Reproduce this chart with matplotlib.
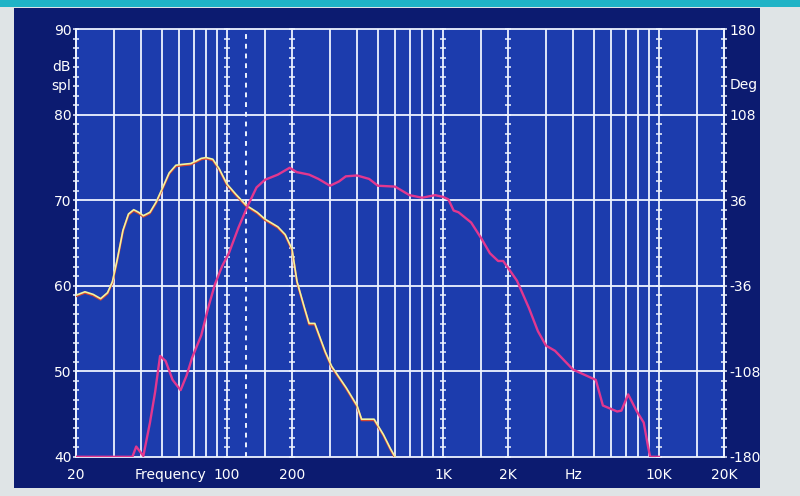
import numpy as np
import matplotlib
matplotlib.use('Agg')
import matplotlib.pyplot as plt
from matplotlib.patches import Rectangle
import matplotlib.transforms as mtransforms

# ---------------- data ----------------
yellow_freq = [20, 22, 24, 26, 28, 29.5, 31, 33, 35, 37, 39, 41, 44, 47, 50, 54, 58, 62,
               68, 72, 76, 80, 86, 92, 100, 110, 123, 138, 150, 172, 186, 200, 211, 228,
               240, 255, 262, 285, 305, 356, 400, 420, 480, 530, 570, 600]
yellow_db = [58.9, 59.3, 59.0, 58.5, 59.2, 60.5, 63.0, 66.5, 68.4, 68.9, 68.6, 68.2, 68.6,
             69.8, 71.3, 73.2, 74.1, 74.2, 74.3, 74.6, 74.9, 75.0, 74.8, 73.7, 71.9, 70.7,
             69.4, 68.6, 67.8, 66.9, 66.0, 64.3, 60.5, 57.5, 55.6, 55.6, 54.8, 52.3, 50.6,
             48.1, 46.0, 44.4, 44.4, 42.6, 41.0, 40.0]

magenta_freq = [20, 36.5, 38, 41, 44, 46.5, 49, 52, 56, 61, 65, 69, 76, 82, 88, 95, 102,
                113, 125, 137, 150, 172, 195, 210, 240, 265, 300, 330, 355, 400, 455, 500,
                600, 700, 800, 920, 1000, 1060, 1120, 1180, 1350, 1500, 1650, 1800, 1900,
                2000, 2200, 2500, 2750, 3000, 3300, 4000, 4700, 5100, 5500, 6400, 6700,
                7200, 7900, 8500, 8900, 9100, 10000]
magenta_db = [40.0, 40.0, 41.2, 40.1, 44.0, 47.6, 51.8, 51.2, 49.0, 47.8, 49.5, 51.6, 54.2,
              57.5, 60.2, 62.3, 63.8, 66.8, 69.4, 71.5, 72.4, 73.0, 73.8, 73.3, 73.0, 72.5,
              71.7, 72.2, 72.8, 72.9, 72.5, 71.7, 71.6, 70.6, 70.3, 70.6, 70.4, 70.1, 68.8,
              68.6, 67.4, 65.6, 63.8, 62.9, 62.9, 62.1, 60.6, 57.4, 54.7, 53.0, 52.4, 50.2,
              49.4, 49.0, 46.0, 45.3, 45.4, 47.3, 45.3, 44.0, 41.2, 40.0, 40.0]

x_tick_vals = [20, 55, 100, 200, 1000, 2000, 4000, 10000, 20000]
x_tick_labels = ['20', 'Frequency', '100', '200', '1K', '2K', 'Hz', '10K', '20K']
solid_grid_freqs = [30, 40, 50, 60, 70, 80, 90, 150, 300, 400, 500, 600, 700, 800, 900,
                    1500, 3000, 4000, 5000, 6000, 7000, 8000, 9000, 15000]
beaded_grid_freqs = [20, 100, 200, 1000, 2000, 10000, 20000]
marker_freq = 123
db_ticks = [40, 50, 60, 70, 80, 90]
db_grid = [50, 60, 70, 80]
deg_ticks = [-180, -108, -36, 36, 108, 180]

# ---------------- style ----------------
plt.rcParams['axes.unicode_minus'] = False
plt.rcParams['font.family'] = ['DejaVu Sans']
GC = '#eef3ff'
PANEL = '#0c1b70'
PLOT_BG = '#1c3cad'

fig = plt.figure(figsize=(8, 4.96), dpi=100, facecolor='#dfe4e6')
fig.patches.append(Rectangle((0.018, 0.016), 0.932, 0.968, transform=fig.transFigure,
                             facecolor=PANEL, edgecolor='none', zorder=-10))
fig.patches.append(Rectangle((0.0, 0.986), 1.0, 0.014, transform=fig.transFigure,
                             facecolor='#1fb3c6', edgecolor='none', zorder=-10))

ax = fig.add_axes([0.095, 0.079, 0.81, 0.862])
ax.set_facecolor(PLOT_BG)
ax.set_xscale('log')
ax.set_xlim(20, 20000)
ax.set_ylim(40, 90)

# grid
for f in solid_grid_freqs:
    ax.axvline(f, color=GC, lw=1.3, zorder=1)
for y in db_grid:
    ax.axhline(y, color=GC, lw=1.3, zorder=1)
bead_y = np.linspace(40, 90, 46)
for f in beaded_grid_freqs:
    ax.axvline(f, color=GC, lw=1.3, zorder=1, clip_on=False)
    ax.plot([f] * len(bead_y), bead_y, ls='none', marker='_', ms=4.5, mew=1.1,
            color=GC, zorder=1, clip_on=False)
ax.axvline(marker_freq, color=GC, lw=1.4, ls=(0, (2.5, 2.5)), zorder=1)

for s in ax.spines.values():
    s.set_color(GC)
    s.set_linewidth(1.3)

# curves
off = mtransforms.offset_copy(ax.transData, fig=fig, x=0, y=-1.0, units='dots')
ax.plot(yellow_freq, yellow_db, color='#d8452e', lw=1.5, zorder=3, transform=off)
ax.plot(yellow_freq, yellow_db, color='#f2f4a0', lw=1.2, zorder=4)
ax.plot(magenta_freq, magenta_db, color='#e2378f', lw=1.7, zorder=5)

# ticks
ax.set_xticks(x_tick_vals)
ax.set_xticklabels(x_tick_labels)
ax.xaxis.set_minor_locator(matplotlib.ticker.NullLocator())
ax.set_yticks(db_ticks)
ax.set_yticklabels([str(v) for v in db_ticks])
ax.tick_params(axis='both', length=0, colors='white', labelsize=10)
ax.tick_params(axis='x', pad=8)
ax.tick_params(axis='y', pad=3)

ax2 = ax.twinx()
ax2.set_ylim(-180, 180)
ax2.set_yticks(deg_ticks)
ax2.set_yticklabels([str(v) for v in deg_ticks])
ax2.tick_params(axis='y', length=0, colors='white', labelsize=10, pad=4)
for s in ax2.spines.values():
    s.set_visible(False)

trans_l = mtransforms.blended_transform_factory(ax.transAxes, ax.transData)
ax.text(-0.008, 85.6, 'dB', transform=trans_l, ha='right', va='center', color='white', fontsize=10)
ax.text(-0.008, 83.4, 'spl', transform=trans_l, ha='right', va='center', color='white', fontsize=10)
trans_r = mtransforms.blended_transform_factory(ax2.transAxes, ax2.transData)
ax2.text(1.008, 133, 'Deg', transform=trans_r, ha='left', va='center', color='white', fontsize=10)

fig.savefig('out.png', dpi=100, facecolor=fig.get_facecolor())
